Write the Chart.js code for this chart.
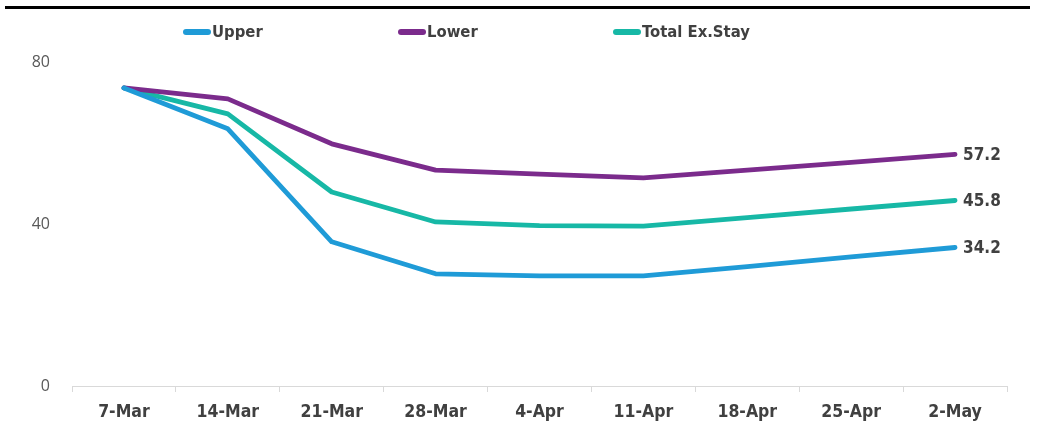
<!DOCTYPE html>
<html>
<head>
<meta charset="utf-8">
<script src="https://cdn.jsdelivr.net/npm/chart.js@4/dist/chart.umd.min.js"></script>
<style>
  html, body { margin: 0; padding: 0; background: #ffffff; }
  #wrap { position: relative; width: 1043px; height: 445px; }
</style>
</head>
<body>
<div id="wrap"><canvas id="c" width="1043" height="445"></canvas></div>
<script>
// Weekly index values
const weeks = ['7-Mar', '14-Mar', '21-Mar', '28-Mar', '4-Apr', '11-Apr', '18-Apr', '25-Apr', '2-May'];
const upper = [73.6, 63.5, 35.6, 27.7, 27.2, 27.2, 29.5, 31.9, 34.2];
const lower = [73.6, 70.9, 59.8, 53.3, 52.3, 51.4, 53.3, 55.2, 57.2];
const totalExStay = [73.6, 67.2, 47.9, 40.5, 39.6, 39.5, 41.6, 43.7, 45.8];
const yTicks = [0, 40, 80];

const COLORS = { upper: '#1f9bd7', lower: '#7b2b8c', total: '#17b8a6' };
const TEXT = '#404040';
const CONDENSED = '"DejaVu Sans Condensed", "DejaVu Sans", sans-serif';

// Rule across the top, legend row and end-of-line value labels
const decorations = {
  id: 'decorations',
  afterDraw(chart) {
    const ctx = chart.ctx;
    ctx.save();
    ctx.fillStyle = '#000000';
    ctx.fillRect(5, 6, 1025, 3);

    const items = chart.data.datasets;
    const startX = 183, stepX = 215, legendY = 32;
    items.forEach((ds, i) => {
      const x = startX + i * stepX;
      ctx.strokeStyle = ds.borderColor;
      ctx.lineWidth = 6;
      ctx.lineCap = 'round';
      ctx.beginPath();
      ctx.moveTo(x + 3, legendY);
      ctx.lineTo(x + 25, legendY);
      ctx.stroke();
      ctx.fillStyle = TEXT;
      ctx.font = 'bold 16.5px ' + CONDENSED;
      ctx.textBaseline = 'middle';
      ctx.textAlign = 'left';
      ctx.fillText(ds.label, x + 29, legendY + 1);
    });

    items.forEach((ds, i) => {
      const meta = chart.getDatasetMeta(i);
      const last = meta.data[meta.data.length - 1];
      const v = ds.data[ds.data.length - 1];
      ctx.fillStyle = TEXT;
      ctx.font = 'bold 17px ' + CONDENSED;
      ctx.textBaseline = 'middle';
      ctx.textAlign = 'left';
      ctx.fillText(v.toFixed(1), last.x + 8, last.y + 1);
    });
    ctx.restore();
  }
};

const lineStyle = {
  borderWidth: 4.8,
  pointRadius: 0,
  pointHoverRadius: 0,
  tension: 0,
  fill: false,
  borderCapStyle: 'round',
  borderJoinStyle: 'round'
};

new Chart(document.getElementById('c'), {
  type: 'line',
  data: {
    labels: weeks,
    datasets: [
      Object.assign({ label: 'Upper', data: upper, borderColor: COLORS.upper, backgroundColor: COLORS.upper }, lineStyle),
      Object.assign({ label: 'Lower', data: lower, borderColor: COLORS.lower, backgroundColor: COLORS.lower }, lineStyle),
      Object.assign({ label: 'Total Ex.Stay', data: totalExStay, borderColor: COLORS.total, backgroundColor: COLORS.total }, lineStyle)
    ]
  },
  options: {
    responsive: false,
    animation: false,
    layout: { padding: { top: 62, right: 36, bottom: 0, left: 0 } },
    plugins: {
      legend: { display: false },
      tooltip: { enabled: false }
    },
    scales: {
      x: {
        offset: true,
        afterFit(scale) { scale.height = 59; },
        grid: {
          offset: true,
          drawOnChartArea: false,
          drawTicks: true,
          tickLength: 6,
          color: '#d9d9d9'
        },
        border: { display: true, color: '#d9d9d9', width: 1 },
        ticks: {
          color: TEXT,
          padding: 10,
          maxRotation: 0,
          autoSkip: false,
          font: { family: CONDENSED, size: 17.5, weight: 'bold' }
        }
      },
      y: {
        min: 0,
        max: 80,
        afterFit(scale) { scale.width = 72; },
        afterBuildTicks(scale) { scale.ticks = yTicks.map(v => ({ value: v })); },
        grid: { display: false, drawTicks: false },
        border: { display: false },
        ticks: {
          color: '#595959',
          padding: 22,
          font: { family: '"Open Sans", "Liberation Sans", sans-serif', size: 16 }
        }
      }
    }
  },
  plugins: [decorations]
});
</script>
</body>
</html>
